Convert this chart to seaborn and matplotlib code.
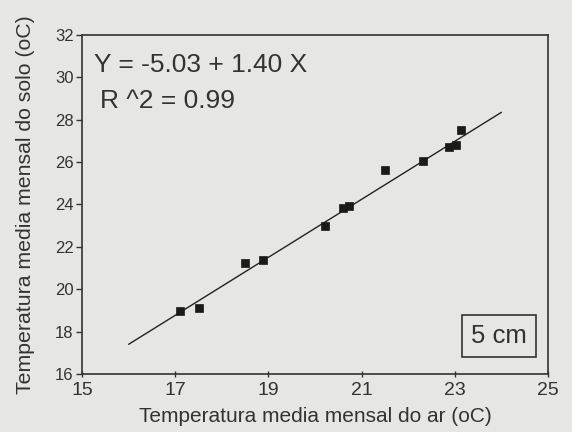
import matplotlib
matplotlib.use("Agg")
import matplotlib.pyplot as plt
import seaborn as sns
import pandas as pd

# Data
air_temp = [17.10, 17.50, 18.50, 18.89, 20.21, 20.60, 20.73, 21.50, 22.32, 22.87, 23.03, 23.13]
soil_temp = [18.99, 19.10, 21.25, 21.38, 22.97, 23.85, 23.93, 25.61, 26.04, 26.71, 26.79, 27.50]
fit_x = [16.0, 24.0]
fit_y = [17.40, 28.35]
x_ticks = [15, 17, 19, 21, 23, 25]
y_ticks = [16, 18, 20, 22, 24, 26, 28, 30, 32]
equation_text = "Y = -5.03 + 1.40 X"
r2_text = "R ^2 = 0.99"
box_text = "5 cm"
x_label = "Temperatura media mensal do ar (oC)"
y_label = "Temperatura media mensal do solo (oC)"

sns.set_theme(style="ticks")
plt.rcParams["font.family"] = ["Liberation Sans", "DejaVu Sans"]

bg = "#e6e6e4"
fig = plt.figure(figsize=(5.72, 4.32), dpi=100, facecolor=bg)
ax = fig.add_axes([0.1434, 0.1343, 0.8146, 0.7847])
ax.set_facecolor(bg)

pts = pd.DataFrame({"x": air_temp, "y": soil_temp})
fit = pd.DataFrame({"x": fit_x, "y": fit_y})

sns.lineplot(data=fit, x="x", y="y", ax=ax, color="#222222", linewidth=1.0)
sns.scatterplot(data=pts, x="x", y="y", ax=ax, marker="s", s=38,
                color="#1a1a1a", edgecolor="#1a1a1a", linewidth=0.5, zorder=3)

ax.set_xlim(15, 25)
ax.set_ylim(16, 32)
ax.set_xticks(x_ticks)
ax.set_yticks(y_ticks)
ax.set_xticklabels([str(t) for t in x_ticks])
ax.set_yticklabels([str(t) for t in y_ticks])
ax.tick_params(axis="y", direction="out", length=4, width=1, labelsize=12,
               pad=2, colors="#333333", labelcolor="#333333")
ax.tick_params(axis="x", direction="inout", length=5, width=1, labelsize=14,
               pad=3, colors="#333333", labelcolor="#333333")
for s in ax.spines.values():
    s.set_color("#333333")
    s.set_linewidth(1.2)

ax.set_xlabel(x_label, fontsize=15, color="#333333", labelpad=6)
ax.set_ylabel(y_label, fontsize=15.3, color="#333333", labelpad=14)

ax.text(0.026, 0.912, equation_text, transform=ax.transAxes, fontsize=19,
        color="#333333", va="center", ha="left")
ax.text(0.038, 0.806, r2_text, transform=ax.transAxes, fontsize=19,
        color="#333333", va="center", ha="left")
ax.text(0.894, 0.112, box_text, transform=ax.transAxes, fontsize=18.5,
        color="#333333", va="center", ha="center",
        bbox=dict(boxstyle="square,pad=0.35", facecolor=bg, edgecolor="#333333",
                  linewidth=1.2))

fig.savefig("out.png", dpi=100, facecolor=bg)
